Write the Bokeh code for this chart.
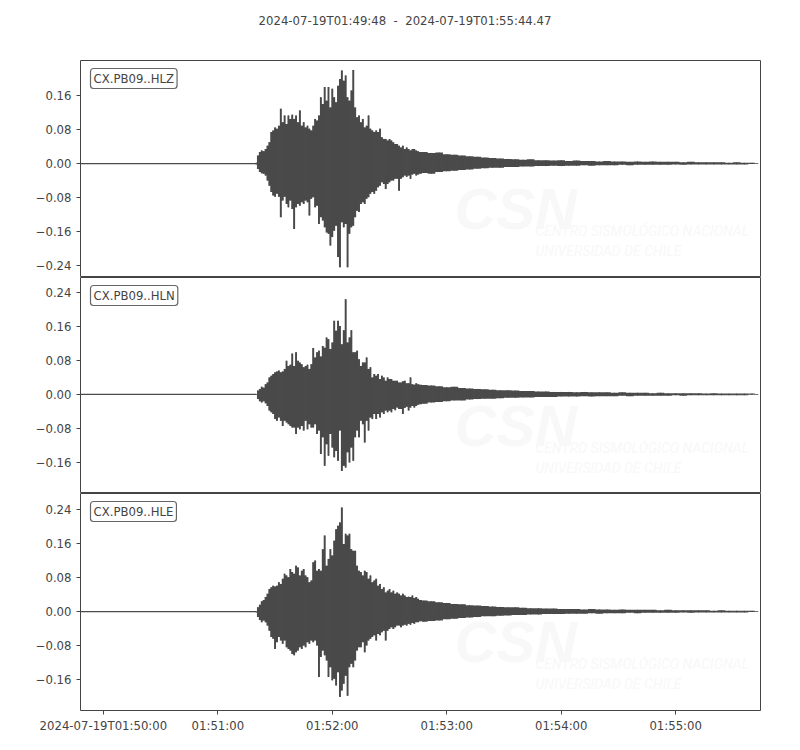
from bokeh.embed import file_html
from bokeh.layouts import column
from bokeh.models import (ColumnDataSource, CustomJSTickFormatter, Div,
                          FixedTicker, Label, Range1d)
from bokeh.plotting import figure
from bokeh.resources import INLINE

# seconds relative to 2024-07-19T01:50:00
START = -12.0
END = 344.47
TITLE = "2024-07-19T01:49:48  -  2024-07-19T01:55:44.47"

X_TICKS = [0, 60, 120, 180, 240, 300]
X_TICK_LABELS = ["2024-07-19T01:50:00", "01:51:00", "01:52:00",
                 "01:53:00", "01:54:00", "01:55:00"]

CHANNELS = ["CX.PB09..HLZ", "CX.PB09..HLN", "CX.PB09..HLE"]

# envelope sample times: every second through the strong motion,
# every 4 s in the coda
TIMES = list(range(80, 167)) + list(range(168, 341, 4)) + [343]

# quiet trace before the first arrival
PRE_T = [START, 80]
PRE_AMP = [0.0, 0.0]

HLZ_UP = [
    0.002, 0.019, 0.027, 0.031, 0.029, 0.034, 0.042, 0.050, 0.074, 0.078,
    0.085, 0.082, 0.089, 0.129, 0.097, 0.113, 0.093, 0.113, 0.105, 0.115,
    0.105, 0.113, 0.097, 0.125, 0.089, 0.097, 0.085, 0.089, 0.082, 0.078,
    0.089, 0.105, 0.101, 0.113, 0.156, 0.140, 0.180, 0.148, 0.180, 0.132,
    0.176, 0.156, 0.144, 0.183, 0.199, 0.219, 0.195, 0.207, 0.156, 0.148,
    0.172, 0.220, 0.132, 0.109, 0.113, 0.097, 0.105, 0.085, 0.089, 0.113,
    0.082, 0.078, 0.074, 0.078, 0.074, 0.082, 0.062, 0.058, 0.058, 0.054,
    0.058, 0.054, 0.050, 0.046, 0.046, 0.042, 0.038, 0.042, 0.034, 0.038,
    0.034, 0.031, 0.034, 0.034, 0.031, 0.029, 0.027,
    0.027, 0.025, 0.026, 0.022, 0.021, 0.019, 0.017, 0.016, 0.014, 0.013,
    0.012, 0.011, 0.010, 0.009, 0.010, 0.008, 0.008, 0.007, 0.008, 0.006,
    0.007, 0.006, 0.006, 0.005, 0.006, 0.005, 0.005, 0.004, 0.005, 0.004,
    0.005, 0.004, 0.004, 0.004, 0.003, 0.004, 0.003, 0.003, 0.003, 0.003,
    0.002, 0.003, 0.002, 0.002, 0.001]
HLZ_LO = [
    -0.002, -0.013, -0.020, -0.023, -0.024, -0.028, -0.040, -0.052, -0.067, -0.075,
    -0.078, -0.071, -0.078, -0.126, -0.087, -0.078, -0.095, -0.103, -0.087, -0.107,
    -0.154, -0.103, -0.095, -0.099, -0.091, -0.095, -0.087, -0.091, -0.122, -0.083,
    -0.079, -0.103, -0.099, -0.142, -0.126, -0.134, -0.150, -0.162, -0.165, -0.193,
    -0.173, -0.158, -0.146, -0.220, -0.244, -0.138, -0.150, -0.142, -0.244, -0.165,
    -0.150, -0.146, -0.126, -0.111, -0.114, -0.095, -0.091, -0.095, -0.083, -0.079,
    -0.071, -0.067, -0.071, -0.064, -0.056, -0.052, -0.044, -0.048, -0.060, -0.048,
    -0.044, -0.040, -0.040, -0.036, -0.036, -0.064, -0.036, -0.032, -0.028, -0.031,
    -0.028, -0.036, -0.026, -0.024, -0.028, -0.026, -0.024,
    -0.022, -0.024, -0.020, -0.018, -0.017, -0.015, -0.014, -0.012, -0.011, -0.010,
    -0.010, -0.008, -0.008, -0.007, -0.007, -0.006, -0.006, -0.005, -0.006, -0.005,
    -0.005, -0.004, -0.005, -0.004, -0.004, -0.004, -0.003, -0.004, -0.003, -0.003,
    -0.003, -0.003, -0.003, -0.002, -0.003, -0.002, -0.002, -0.002, -0.002, -0.002,
    -0.002, -0.002, -0.002, -0.001, -0.001]

HLN_UP = [
    0.001, 0.009, 0.013, 0.018, 0.016, 0.024, 0.028, 0.040, 0.044, 0.048,
    0.052, 0.054, 0.056, 0.052, 0.054, 0.060, 0.079, 0.067, 0.070, 0.096,
    0.067, 0.099, 0.079, 0.075, 0.071, 0.064, 0.067, 0.070, 0.060, 0.071,
    0.109, 0.087, 0.099, 0.103, 0.089, 0.114, 0.110, 0.134, 0.130, 0.107,
    0.122, 0.173, 0.150, 0.173, 0.161, 0.118, 0.151, 0.224, 0.122, 0.134,
    0.151, 0.099, 0.099, 0.103, 0.083, 0.067, 0.075, 0.075, 0.087, 0.060,
    0.064, 0.040, 0.048, 0.044, 0.048, 0.036, 0.044, 0.040, 0.032, 0.040,
    0.036, 0.036, 0.032, 0.032, 0.032, 0.028, 0.028, 0.031, 0.032, 0.026,
    0.026, 0.040, 0.024, 0.023, 0.026, 0.024, 0.023,
    0.022, 0.021, 0.019, 0.017, 0.018, 0.015, 0.014, 0.013, 0.012, 0.011,
    0.010, 0.010, 0.009, 0.008, 0.008, 0.007, 0.007, 0.006, 0.006, 0.006,
    0.005, 0.006, 0.005, 0.005, 0.005, 0.004, 0.005, 0.004, 0.004, 0.004,
    0.003, 0.004, 0.003, 0.003, 0.003, 0.003, 0.003, 0.002, 0.003, 0.002,
    0.002, 0.002, 0.002, 0.002, 0.001]
HLN_LO = [
    -0.001, -0.011, -0.016, -0.019, -0.016, -0.021, -0.027, -0.038, -0.042, -0.046,
    -0.058, -0.062, -0.054, -0.062, -0.074, -0.062, -0.066, -0.070, -0.074, -0.078,
    -0.078, -0.093, -0.078, -0.082, -0.074, -0.085, -0.062, -0.082, -0.070, -0.078,
    -0.078, -0.070, -0.093, -0.085, -0.140, -0.101, -0.168, -0.117, -0.144, -0.093,
    -0.125, -0.148, -0.133, -0.156, -0.085, -0.180, -0.168, -0.172, -0.136, -0.160,
    -0.125, -0.156, -0.101, -0.085, -0.101, -0.062, -0.070, -0.113, -0.062, -0.085,
    -0.054, -0.058, -0.046, -0.058, -0.046, -0.054, -0.042, -0.046, -0.038, -0.042,
    -0.038, -0.042, -0.034, -0.037, -0.031, -0.034, -0.034, -0.046, -0.032, -0.029,
    -0.038, -0.031, -0.027, -0.031, -0.027, -0.024, -0.023,
    -0.022, -0.019, -0.018, -0.016, -0.014, -0.014, -0.012, -0.011, -0.010, -0.010,
    -0.009, -0.008, -0.008, -0.007, -0.007, -0.006, -0.006, -0.006, -0.005, -0.005,
    -0.005, -0.004, -0.005, -0.004, -0.004, -0.004, -0.003, -0.004, -0.003, -0.003,
    -0.003, -0.003, -0.003, -0.002, -0.003, -0.002, -0.002, -0.002, -0.002, -0.002,
    -0.002, -0.002, -0.002, -0.001, -0.001]

HLE_UP = [
    0.001, 0.010, 0.016, 0.024, 0.027, 0.034, 0.042, 0.053, 0.057, 0.061,
    0.059, 0.061, 0.069, 0.065, 0.077, 0.089, 0.085, 0.081, 0.100, 0.093,
    0.089, 0.108, 0.104, 0.085, 0.096, 0.100, 0.085, 0.081, 0.069, 0.073,
    0.116, 0.120, 0.096, 0.100, 0.096, 0.147, 0.179, 0.108, 0.124, 0.147,
    0.132, 0.167, 0.194, 0.202, 0.210, 0.245, 0.159, 0.183, 0.179, 0.183,
    0.147, 0.143, 0.143, 0.108, 0.096, 0.093, 0.085, 0.096, 0.093, 0.077,
    0.085, 0.069, 0.073, 0.077, 0.061, 0.065, 0.053, 0.057, 0.045, 0.049,
    0.053, 0.045, 0.049, 0.042, 0.045, 0.042, 0.038, 0.042, 0.038, 0.034,
    0.035, 0.034, 0.038, 0.032, 0.034, 0.030, 0.027,
    0.026, 0.024, 0.022, 0.020, 0.018, 0.017, 0.015, 0.014, 0.013, 0.012,
    0.011, 0.010, 0.010, 0.009, 0.008, 0.008, 0.007, 0.007, 0.006, 0.006,
    0.006, 0.005, 0.006, 0.005, 0.005, 0.004, 0.005, 0.004, 0.004, 0.004,
    0.004, 0.003, 0.004, 0.003, 0.003, 0.003, 0.003, 0.003, 0.002, 0.003,
    0.002, 0.002, 0.002, 0.002, 0.001]
HLE_LO = [
    -0.002, -0.013, -0.020, -0.025, -0.021, -0.025, -0.033, -0.045, -0.060, -0.064,
    -0.088, -0.072, -0.060, -0.068, -0.076, -0.068, -0.084, -0.088, -0.092, -0.100,
    -0.103, -0.096, -0.092, -0.084, -0.088, -0.080, -0.084, -0.072, -0.076, -0.068,
    -0.072, -0.068, -0.080, -0.154, -0.107, -0.092, -0.103, -0.115, -0.154, -0.131,
    -0.162, -0.158, -0.174, -0.143, -0.201, -0.186, -0.170, -0.151, -0.198, -0.131,
    -0.123, -0.131, -0.115, -0.092, -0.084, -0.084, -0.072, -0.096, -0.080, -0.068,
    -0.064, -0.060, -0.056, -0.068, -0.053, -0.056, -0.049, -0.045, -0.068, -0.045,
    -0.041, -0.037, -0.041, -0.037, -0.033, -0.033, -0.037, -0.033, -0.031, -0.033,
    -0.029, -0.031, -0.027, -0.029, -0.025, -0.025, -0.023,
    -0.024, -0.022, -0.021, -0.018, -0.017, -0.015, -0.014, -0.013, -0.011, -0.011,
    -0.010, -0.009, -0.008, -0.008, -0.007, -0.007, -0.006, -0.006, -0.006, -0.005,
    -0.005, -0.005, -0.004, -0.005, -0.004, -0.004, -0.004, -0.003, -0.004, -0.003,
    -0.003, -0.003, -0.003, -0.003, -0.002, -0.003, -0.002, -0.002, -0.002, -0.002,
    -0.002, -0.002, -0.002, -0.001, -0.001]

Y_RANGES = [(-0.268, 0.2424), (-0.233, 0.275), (-0.233, 0.278)]
Y_TICKS = [[-0.24, -0.16, -0.08, 0.0, 0.08, 0.16],
           [-0.16, -0.08, 0.0, 0.08, 0.16, 0.24],
           [-0.16, -0.08, 0.0, 0.08, 0.16, 0.24]]
FRAME_HEIGHTS = [217, 216, 217]

WAVE = "#4a4a4a"
TEXT = "#444444"
FONT = "DejaVu Sans"
FONT_SIZE = "11.7px"
WATERMARK = "#f8f8f8"


def trace_panel(i, up, lo, x_range):
    last = i == 2
    p = figure(frame_width=680, frame_height=FRAME_HEIGHTS[i],
               x_range=x_range,
               y_range=Range1d(*Y_RANGES[i]),
               output_backend="svg",
               toolbar_location=None,
               min_border_left=80, min_border_right=40,
               min_border_top=0, min_border_bottom=0)
    p.title.visible = False
    p.grid.visible = False
    p.outline_line_color = TEXT
    p.outline_line_width = 1
    p.background_fill_color = "white"

    # faint logo watermark under the trace
    h = FRAME_HEIGHTS[i]
    for txt, x, y, size, style, font in [
            ("CSN", 374, h - 148, "58px", "bold italic", "Liberation Sans"),
            ("CENTRO SISMOLÓGICO NACIONAL", 455, h - 170, "14px", "italic", "Roboto"),
            ("UNIVERSIDAD DE CHILE", 455, h - 190, "14px", "italic", "Roboto")]:
        p.add_layout(Label(x=x, y=y, x_units="screen", y_units="screen",
                           text=txt, text_font=font, text_font_size=size,
                           text_font_style=style, text_color=WATERMARK,
                           text_baseline="alphabetic", level="underlay"))

    p.line(PRE_T, PRE_AMP, line_color=WAVE, line_width=1.3)
    src = ColumnDataSource(dict(t=TIMES, up=up, lo=lo))
    p.varea_step(x="t", y1="lo", y2="up", source=src, fill_color=WAVE,
                 step_mode="center")
    p.segment(x0="t", y0="lo", x1="t", y1="up", source=src,
              line_color=WAVE, line_width=1.0)

    p.add_layout(Label(x=10, y=h - 8, x_units="screen", y_units="screen",
                       text=CHANNELS[i], text_font=FONT, text_font_size=FONT_SIZE,
                       text_color=TEXT, text_align="left", text_baseline="top",
                       padding=3, border_radius=3,
                       background_fill_color="white",
                       border_line_color="#666666", border_line_width=1.2))

    yax = p.yaxis[0]
    yax.ticker = FixedTicker(ticks=Y_TICKS[i])
    yax.formatter = CustomJSTickFormatter(
        code="return tick.toFixed(2).replace('-', '\u2212');")
    yax.axis_line_color = None
    yax.major_tick_line_color = TEXT
    yax.major_tick_out = 4
    yax.major_tick_in = 0
    yax.minor_tick_line_color = None
    yax.major_label_text_font = FONT
    yax.major_label_text_font_size = FONT_SIZE
    yax.major_label_text_color = TEXT
    yax.major_label_standoff = 5

    xax = p.xaxis[0]
    if last:
        xax.ticker = FixedTicker(ticks=X_TICKS)
        xax.major_label_overrides = dict(zip(X_TICKS, X_TICK_LABELS))
        xax.axis_line_color = None
        xax.major_tick_line_color = TEXT
        xax.major_tick_out = 4
        xax.major_tick_in = 0
        xax.minor_tick_line_color = None
        xax.major_label_text_font = FONT
        xax.major_label_text_font_size = FONT_SIZE
        xax.major_label_text_color = TEXT
        xax.major_label_standoff = 4
    else:
        xax.visible = False
    return p


x_range = Range1d(START, END)
header = Div(text=TITLE, width=800, height=50,
             styles={"font-family": FONT, "font-size": FONT_SIZE,
                     "color": TEXT, "text-align": "center",
                     "white-space": "pre", "line-height": "32px",
                     "width": "800px"})

panels = [trace_panel(i, up, lo, x_range) for i, (up, lo) in
          enumerate([(HLZ_UP, HLZ_LO), (HLN_UP, HLN_LO), (HLE_UP, HLE_LO)])]

page = column(header, *panels, spacing=0)
open("out.html", "w").write(file_html(page, INLINE))
